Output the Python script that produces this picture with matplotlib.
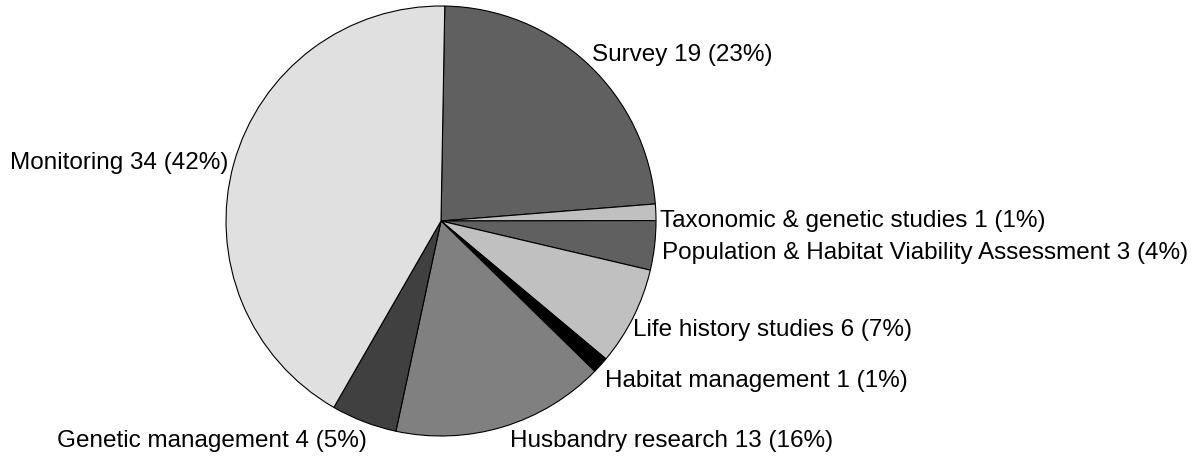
import matplotlib
matplotlib.use('Agg')
from matplotlib import pyplot as plt

labels = ['Survey', 'Taxonomic & genetic studies', 'Population & Habitat Viability Assessment',
          'Life history studies', 'Habitat management', 'Husbandry research',
          'Genetic management', 'Monitoring']
counts = [19, 1, 3, 6, 1, 13, 4, 34]
colors = ['#606060', '#c0c0c0', '#606060', '#c0c0c0', '#000000', '#808080', '#404040', '#e0e0e0']

# label anchors in pixel space (x, y from top) and alignment
label_pos = [(592, 55, 'left'), (660, 221, 'left'), (662, 253, 'left'), (633, 330, 'left'),
             (605, 381, 'left'), (510, 441, 'left'), (57, 441, 'left'), (228, 163, 'right')]

W, H = 1195, 460
fig = plt.figure(figsize=(W / 100, H / 100), dpi=100)
ax = fig.add_axes([0, 0, 1, 1])

ax.pie(counts, colors=colors, startangle=89, counterclock=False,
       center=(441, H - 222), radius=215, frame=True,
       wedgeprops=dict(edgecolor='black', linewidth=0.8))
ax.set_xlim(0, W)
ax.set_ylim(0, H)
ax.set_aspect('equal')
ax.axis('off')

total = sum(counts)
for lab, c, (x, y, ha) in zip(labels, counts, label_pos):
    ax.text(x, H - y, '%s %d (%d%%)' % (lab, c, round(100 * c / total)),
            ha=ha, va='center', fontsize=17.5, family='Liberation Sans')

fig.savefig('out.png', dpi=100)
